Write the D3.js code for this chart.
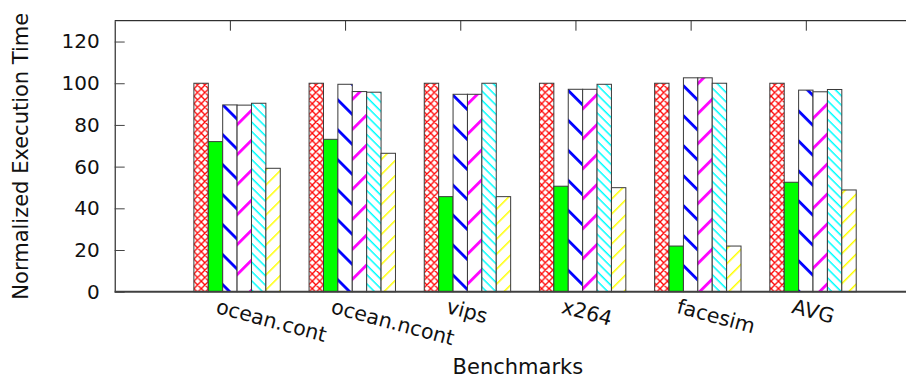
<!DOCTYPE html>
<html>
<head>
<meta charset="utf-8">
<script src="https://cdn.jsdelivr.net/npm/d3@7"></script>
<style>
  html, body { margin: 0; padding: 0; background: #fff; }
  svg { display: block; font-family: "DejaVu Sans", sans-serif; }
</style>
</head>
<body>
<svg id="chart" width="906" height="381"></svg>
<script>
// ---- data ----
const categories = ["ocean.cont", "ocean.ncont", "vips", "x264", "facesim", "AVG"];
const series1 = [100, 100, 100, 100, 100, 100];
const series2 = [72.0, 73.1, 45.6, 50.6, 21.9, 52.5];
const series3 = [89.6, 99.5, 94.7, 97.1, 102.6, 96.7];
const series4 = [89.5, 96.0, 94.7, 97.1, 102.6, 95.9];
const series5 = [90.4, 95.7, 100.0, 99.5, 100.0, 97.0];
const series6 = [59.2, 66.4, 45.6, 49.9, 21.9, 48.8];
const yTicks = [0, 20, 40, 60, 80, 100, 120];
const yTitle = "Normalized Execution Time";
const xTitle = "Benchmarks";

const allSeries = [series1, series2, series3, series4, series5, series6];

// ---- layout ----
const svg = d3.select("#chart");
const pLeft = 114.7, pTop = 20.7, pBottom = 291.7, pRight = 921;
const x = d3.scaleLinear().domain([-1, 6]).range([pLeft, pRight]);
const y = d3.scaleLinear().domain([0, 130]).range([pBottom, pTop]);
const nSeries = 6, slot = 1 / (nSeries + 2);

// ---- patterns ----
const defs = svg.append("defs");
function stripes(id, color, spacing, width, angle) {
  const p = defs.append("pattern").attr("id", id)
    .attr("patternUnits", "userSpaceOnUse")
    .attr("width", 20).attr("height", spacing)
    .attr("patternTransform", `rotate(${angle})`);
  p.append("rect").attr("width", 20).attr("height", spacing).attr("fill", "#fff");
  p.append("rect").attr("x", 0).attr("y", 0).attr("width", 20).attr("height", width).attr("fill", color);
}
(function () {
  const s = 7.4;
  const p = defs.append("pattern").attr("id", "pRed")
    .attr("patternUnits", "userSpaceOnUse").attr("width", s).attr("height", s)
    .attr("x", x(-0.3125));
  p.append("rect").attr("width", s).attr("height", s).attr("fill", "#fff");
  p.append("path").attr("d", `M0,0L${s},${s}M${s},0L0,${s}M-1,1L1,-1M${s-1},${s+1}L${s+1},${s-1}M-1,${s-1}L1,${s+1}M${s-1},-1L${s+1},1`)
    .attr("stroke", "#ff0000").attr("stroke-width", 1.3).attr("fill", "none");
})();
stripes("pBlue", "#0000ff", 21.2, 2.8, 45);
stripes("pMag", "#ff00ff", 21.2, 2.8, -45);
stripes("pCyan", "#00ffff", 6.6, 1.5, 45);
stripes("pYel", "#ffff00", 10.6, 1.5, -45);
const fills = ["url(#pRed)", "#00ff00", "url(#pBlue)", "url(#pMag)", "url(#pCyan)", "url(#pYel)"];

// ---- frame ----
svg.append("line").attr("x1", pLeft).attr("x2", 906).attr("y1", pTop).attr("y2", pTop)
  .attr("stroke", "#000").attr("stroke-width", 1);

// top mirrored x ticks
const xTop = svg.append("g").attr("transform", `translate(0,${pTop})`)
  .call(d3.axisTop(x).tickValues(d3.range(categories.length)).tickSize(-10).tickFormat(""));
xTop.select(".domain").remove();
xTop.selectAll(".tick line").attr("stroke", "#333");

// bars
allSeries.forEach((vals, j) => {
  svg.append("g").selectAll("rect").data(vals).join("rect")
    .attr("x", (d, i) => x(i + (j - 2.5) * slot))
    .attr("width", x(slot) - x(0))
    .attr("y", d => y(d))
    .attr("height", d => y(0) - y(d))
    .attr("fill", fills[j])
    .attr("stroke", "#3a3a3a").attr("stroke-width", 1);
});

// y axis
const yAxis = svg.append("g").attr("transform", `translate(${pLeft},0)`)
  .call(d3.axisLeft(y).tickValues(yTicks).tickSizeInner(-10).tickSizeOuter(0).tickPadding(15));
yAxis.select(".domain").attr("stroke", "#000");
yAxis.selectAll(".tick line").attr("stroke", "#444");
yAxis.selectAll(".tick text").attr("font-size", 20).attr("fill", "#111")
  .attr("font-family", "DejaVu Sans");

// bottom axis line
svg.append("line").attr("x1", pLeft).attr("x2", 906).attr("y1", pBottom).attr("y2", pBottom)
  .attr("stroke", "#404040").attr("stroke-width", 2);

// x tick labels
svg.append("g").selectAll("text").data(categories).join("text")
  .attr("transform", (d, i) => `translate(${x(i) - 15},${pBottom + 21}) rotate(15)`)
  .attr("text-anchor", "start")
  .attr("font-size", 20.5).attr("fill", "#111")
  .text(d => d);

// titles
svg.append("text").attr("x", x(2.5)).attr("y", 374)
  .attr("text-anchor", "middle").attr("font-size", 21).attr("fill", "#111").text(xTitle);
svg.append("text").attr("transform", `translate(28.3,${(pTop + pBottom) / 2}) rotate(-90)`)
  .attr("text-anchor", "middle").attr("font-size", 21).attr("fill", "#111").text(yTitle);
</script>
</body>
</html>
